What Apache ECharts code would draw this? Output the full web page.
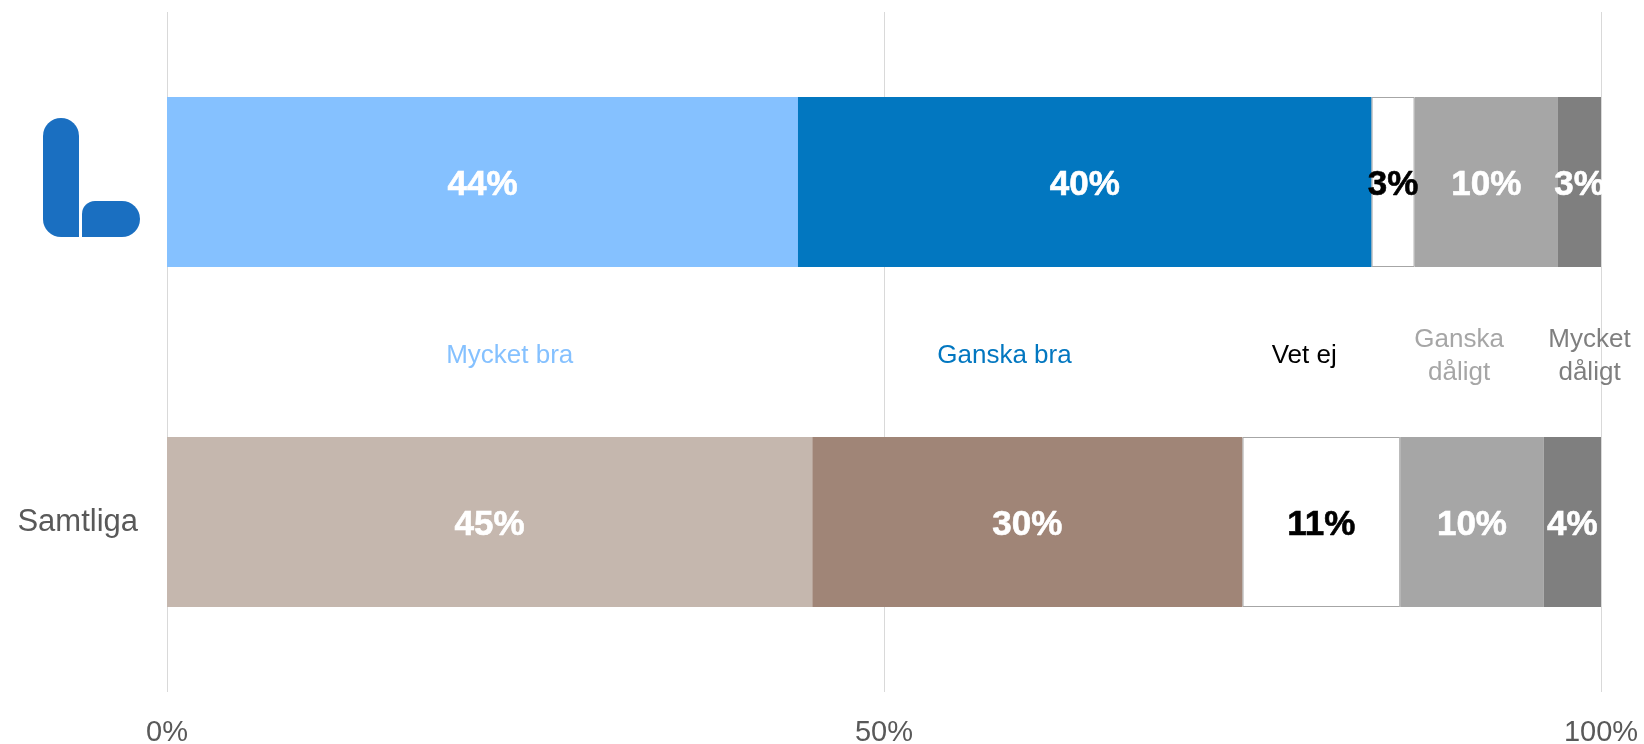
<!DOCTYPE html>
<html>
<head>
<meta charset="utf-8">
<script src="https://cdn.jsdelivr.net/npm/echarts@6/dist/echarts.min.js"></script>
<style>
html,body{margin:0;padding:0;background:#fff;}
#chart{width:1644px;height:744px;}
</style>
</head>
<body>
<div id="chart"></div>
<script>
// ---- data ----
var categories = ['', 'Samtliga'];
var seriesNames = ['Mycket bra', 'Ganska bra', 'Vet ej', 'Ganska dåligt', 'Mycket dåligt'];
var mycketBra   = [44, 45];
var ganskaBra   = [40, 30];
var vetEj       = [3, 11];
var ganskaDaligt = [10, 10];
var mycketDaligt = [3, 4];
var xTicks = [0, 50, 100];
// middle legend-style labels (x position in % of axis)
var legendLabels = ['Mycket bra', 'Ganska bra', 'Vet ej', 'Ganska\ndåligt', 'Mycket\ndåligt'];
var legendLabelX = [23.9, 58.4, 79.3, 90.1, 99.2];

// ---- styles ----
var rowColors = [
  ['#85C1FF', '#0277C0', '#FFFFFF', '#A6A6A6', '#7F7F7F'],
  ['#C5B7AE', '#A08577', '#FFFFFF', '#A6A6A6', '#7F7F7F']
];
var labelColors = ['#FFFFFF', '#FFFFFF', '#000000', '#FFFFFF', '#FFFFFF'];
var legendColors = ['#85C1FF', '#0277C0', '#000000', '#A6A6A6', '#7F7F7F'];

var allValues = [mycketBra, ganskaBra, vetEj, ganskaDaligt, mycketDaligt];

var barSeries = allValues.map(function (vals, si) {
  return {
    name: seriesNames[si],
    type: 'bar',
    stack: 'total',
    barWidth: '50%',
    xAxisIndex: 0,
    yAxisIndex: 0,
    data: vals.map(function (v, ci) {
      return {
        value: v,
        itemStyle: {
          color: rowColors[ci][si],
          borderColor: si === 2 ? '#A6A6A6' : rowColors[ci][si],
          borderWidth: si === 2 ? 1 : 0
        }
      };
    }),
    label: {
      show: true,
      position: 'inside',
      offset: [0, 3],
      formatter: '{c}%',
      color: labelColors[si],
      textBorderColor: labelColors[si],
      textBorderWidth: 0.6,
      fontFamily: 'Liberation Sans, Arial, sans-serif',
      fontWeight: 'bold',
      fontSize: 35
    }
  };
});

var labelSeries = {
  type: 'scatter',
  xAxisIndex: 0,
  yAxisIndex: 1,
  symbolSize: 0,
  silent: true,
  itemStyle: { opacity: 1 },
  data: legendLabels.map(function (t, i) {
    return {
      value: [legendLabelX[i], 0.5],
      name: t,
      label: { color: legendColors[i] }
    };
  }),
  label: {
    show: true,
    position: 'inside',
    offset: [0, 4],
    opacity: 1,
    formatter: function (p) { return p.name; },
    fontFamily: 'Liberation Sans, Arial, sans-serif',
    fontSize: 26,
    lineHeight: 33,
    align: 'center',
    verticalAlign: 'middle'
  }
};

var chart = echarts.init(document.getElementById('chart'), null, { renderer: 'canvas' });
chart.setOption({
  animation: false,
  backgroundColor: '#fff',
  grid: { left: 167, right: 43, top: 12, bottom: 52, containLabel: false, outerBoundsMode: 'none' },
  xAxis: {
    type: 'value',
    min: xTicks[0],
    max: xTicks[xTicks.length - 1],
    interval: xTicks[1] - xTicks[0],
    axisLine: { show: false },
    axisTick: { show: false },
    splitLine: { show: true, lineStyle: { color: '#D9D9D9', width: 1 } },
    axisLabel: {
      formatter: '{value}%',
      color: '#595959',
      fontFamily: 'Liberation Sans, Arial, sans-serif',
      fontSize: 29,
      margin: 26
    }
  },
  yAxis: [
    {
      type: 'category',
      data: categories,
      inverse: true,
      axisLine: { show: false },
      axisTick: { show: false },
      splitLine: { show: false },
      axisLabel: {
        color: '#595959',
        fontFamily: 'Liberation Sans, Arial, sans-serif',
        fontSize: 31,
        margin: 29
      }
    },
    {
      type: 'value',
      min: 0,
      max: 1,
      show: false
    }
  ],
  graphic: [
    {
      type: 'group',
      left: 43,
      top: 118,
      children: [
        { type: 'rect', shape: { x: 0, y: 0, width: 36, height: 119, r: [18, 18, 0, 18] }, style: { fill: '#1A6FC1' } },
        { type: 'rect', shape: { x: 39, y: 83, width: 58, height: 36, r: [13, 18, 18, 0] }, style: { fill: '#1A6FC1' } }
      ]
    }
  ],
  series: barSeries.concat([labelSeries])
});
</script>
</body>
</html>
